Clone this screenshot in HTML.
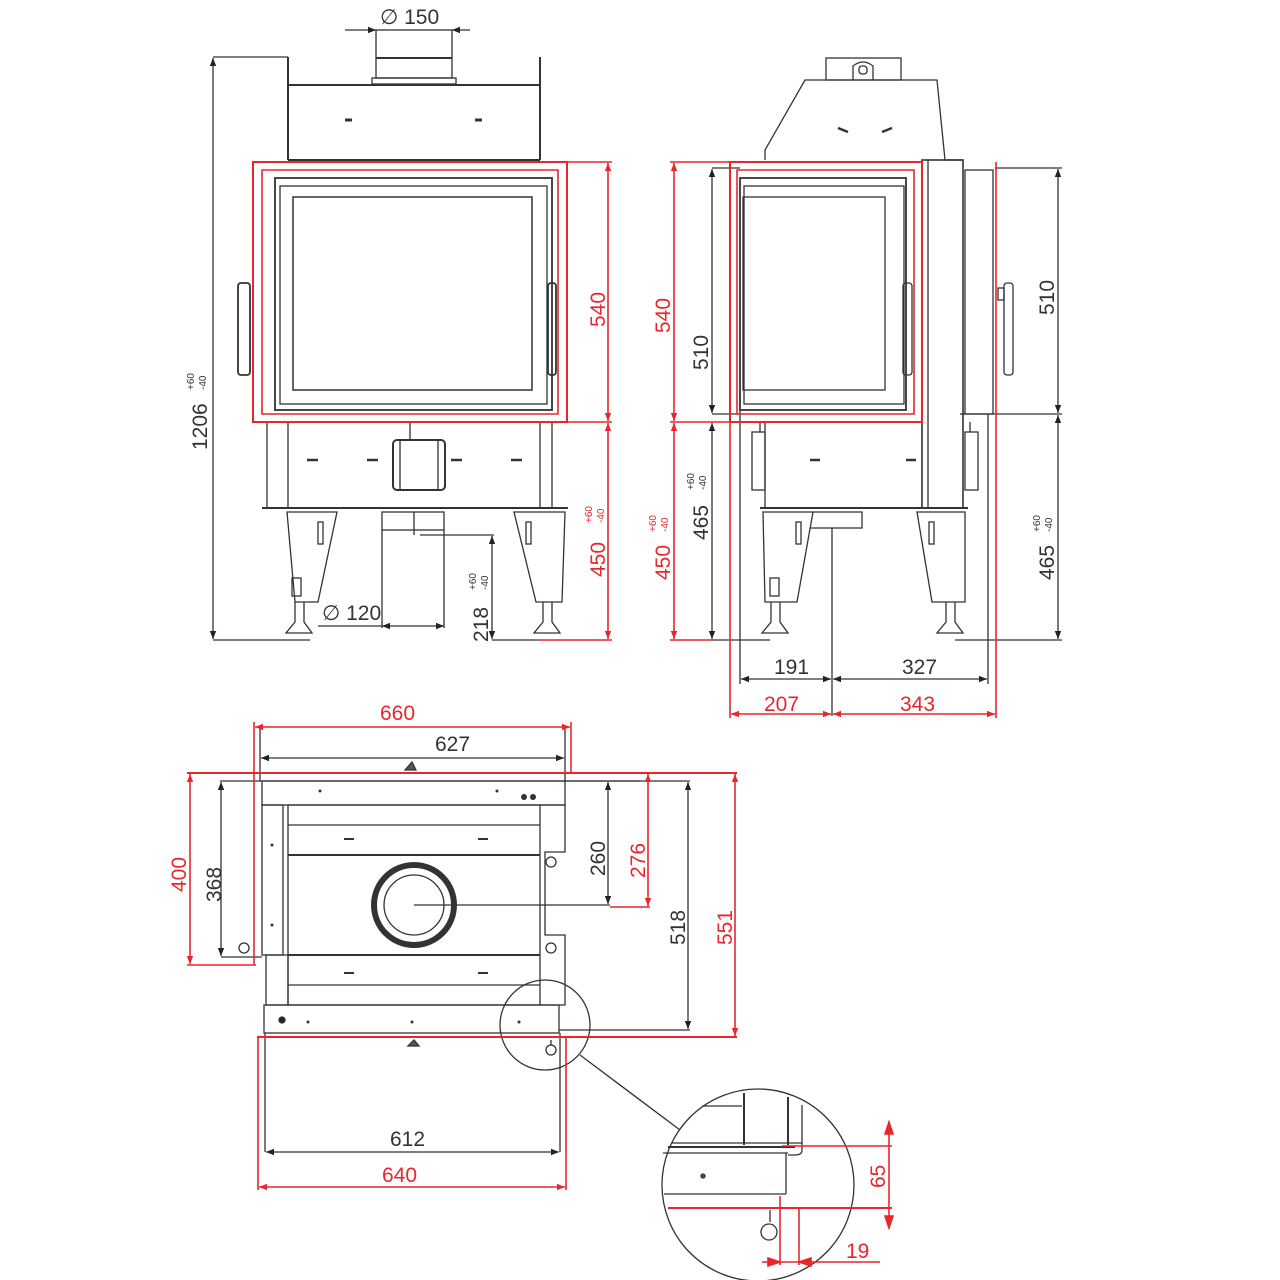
<!DOCTYPE html>
<html><head><meta charset="utf-8"><style>
html,body{margin:0;padding:0;background:#fff}
svg{display:block}
text{font-family:"Liberation Sans",sans-serif;font-size:21px;fill:#333}
.r{fill:#e8262c}
.s{font-size:10px}
</style></head><body>
<svg width="1280" height="1280" viewBox="0 0 1280 1280" xmlns="http://www.w3.org/2000/svg">
<defs>
<marker id="ab" viewBox="0 0 10 10" refX="10" refY="5" markerWidth="12" markerHeight="8" orient="auto-start-reverse" markerUnits="userSpaceOnUse"><path d="M0,1 L10,5 L0,9z" fill="#222"/></marker>
<marker id="ar" viewBox="0 0 10 10" refX="10" refY="5" markerWidth="12" markerHeight="8" orient="auto-start-reverse" markerUnits="userSpaceOnUse"><path d="M0,1 L10,5 L0,9z" fill="#e8262c"/></marker>
</defs>
<g fill="none" stroke="#333" stroke-width="1.3">
<line x1="288" y1="57" x2="288" y2="160" stroke-width="2"/>
<line x1="540" y1="57" x2="540" y2="160" stroke-width="2"/>
<line x1="288" y1="85" x2="540" y2="85" stroke-width="2"/>
<line x1="288" y1="160" x2="540" y2="160" stroke-width="2"/>
<rect x="376" y="30" width="76" height="48"/>
<line x1="376" y1="58" x2="452" y2="58" stroke-width="2"/>
<rect x="372" y="78" width="84" height="6"/>
<line x1="345" y1="120" x2="352" y2="120" stroke-width="3"/>
<line x1="475" y1="120" x2="482" y2="120" stroke-width="3"/>
<rect x="275" y="178" width="277" height="232" stroke-width="1.8"/>
<rect x="280" y="186" width="267" height="218"/>
<rect x="293" y="197" width="239" height="193" stroke-width="1.5"/>
<rect x="238" y="283" width="12" height="92" rx="3" stroke-width="1.8"/>
<rect x="548" y="283" width="8" height="92" rx="3" stroke-width="1.8"/>
<rect x="267" y="422" width="285" height="86"/>
<line x1="288" y1="422" x2="288" y2="508"/>
<line x1="540" y1="422" x2="540" y2="508"/>
<line x1="262" y1="508" x2="568" y2="508" stroke-width="2"/>
<rect x="393" y="440" width="52" height="50" rx="4" stroke-width="2"/>
<line x1="400" y1="440" x2="400" y2="490"/><line x1="438" y1="440" x2="438" y2="490"/>
<line x1="410" y1="422" x2="410" y2="440"/>
<g stroke-width="2.5"><line x1="307" y1="460" x2="318" y2="460"/><line x1="367" y1="460" x2="378" y2="460"/><line x1="451" y1="460" x2="462" y2="460"/><line x1="511" y1="460" x2="522" y2="460"/></g>
<path d="M287 512 L337 512 L318 602 L295 602 Z"/>
<path d="M514 512 L565 512 L562 602 L536 602 Z"/>
<rect x="318" y="522" width="5" height="22"/><rect x="526" y="522" width="5" height="22"/>
<rect x="292" y="578" width="9" height="18"/>
<path d="M295 602 L295 622 L286 633 L312 633 L304 622 L304 602"/>
<path d="M543 602 L543 622 L534 633 L560 633 L552 622 L552 602"/>
<rect x="382" y="512" width="62" height="18"/>
<line x1="382" y1="530" x2="382" y2="628"/><line x1="444" y1="530" x2="444" y2="628"/>
<line x1="414" y1="512" x2="414" y2="535"/>
<line x1="213" y1="57" x2="288" y2="57"/>
<line x1="213" y1="640" x2="310" y2="640"/>
<line x1="213" y1="58" x2="213" y2="639" marker-start="url(#ab)" marker-end="url(#ab)"/>
<line x1="345" y1="30" x2="376" y2="30" marker-end="url(#ab)"/>
<line x1="452" y1="30" x2="470" y2="30" marker-start="url(#ab)"/>
<line x1="318" y1="626" x2="382" y2="626"/>
<line x1="382" y1="626" x2="444" y2="626" marker-start="url(#ab)" marker-end="url(#ab)"/>
<line x1="420" y1="535" x2="494" y2="535"/>
<line x1="492" y1="536" x2="492" y2="639" marker-start="url(#ab)" marker-end="url(#ab)"/>
<line x1="492" y1="640" x2="540" y2="640"/>
</g>
<g fill="none" stroke="#e8262c" stroke-width="1.6">
<rect x="253" y="162" width="314" height="260" stroke-width="2"/>
<path d="M262 170 L558 170 L558 414 L262 414 Z"/>
<line x1="567" y1="162" x2="612" y2="162"/>
<line x1="567" y1="422" x2="612" y2="422"/>
<line x1="540" y1="640" x2="612" y2="640"/>
<line x1="608" y1="163" x2="608" y2="421" marker-start="url(#ar)" marker-end="url(#ar)"/>
<line x1="608" y1="423" x2="608" y2="639" marker-start="url(#ar)" marker-end="url(#ar)"/>
</g>
<text x="0" y="0" transform="translate(207,450) rotate(-90)">1206</text>
<text class="s" transform="translate(194,390) rotate(-90)">+60</text>
<text class="s" transform="translate(206,390) rotate(-90)">-40</text>
<text x="380" y="24">∅ 150</text>
<text x="322" y="620">∅ 120</text>
<text transform="translate(488,642) rotate(-90)">218</text>
<text class="s" transform="translate(476,590) rotate(-90)">+60</text>
<text class="s" transform="translate(488,590) rotate(-90)">-40</text>
<text class="r" transform="translate(605,327) rotate(-90)">540</text>
<text class="r" transform="translate(605,577) rotate(-90)">450</text>
<text class="s r" transform="translate(592,523) rotate(-90)">+60</text>
<text class="s r" transform="translate(604,523) rotate(-90)">-40</text>

<g fill="none" stroke="#333" stroke-width="1.3">
<path d="M765 160 L765 150 L805 80 L937 80 L945 160 L963 160"/>
<rect x="826" y="58" width="75" height="22"/>
<path d="M853 80 L853 66 Q863 58 873 66 L873 80"/>
<rect x="859" y="66" width="8" height="8" rx="3"/>
<line x1="838" y1="128" x2="848" y2="132" stroke-width="2.5"/><line x1="882" y1="132" x2="892" y2="128" stroke-width="2.5"/>
<rect x="740" y="178" width="166" height="232" stroke-width="1.8"/>
<rect x="744" y="186" width="160" height="218"/>
<rect x="743" y="197" width="142" height="193"/>
<rect x="903" y="283" width="9" height="92" rx="3"/>
<rect x="922" y="160" width="41" height="348" stroke-width="1.6"/>
<line x1="928" y1="160" x2="928" y2="508"/>
<rect x="965" y="170" width="28" height="244"/>
<rect x="1004" y="283" width="9" height="92" rx="3"/>
<rect x="998" y="288" width="6" height="12"/>
<line x1="765" y1="422" x2="765" y2="508"/>
<line x1="760" y1="508" x2="968" y2="508" stroke-width="2"/>
<rect x="752" y="432" width="13" height="58"/><rect x="965" y="432" width="13" height="58"/>
<line x1="760" y1="422" x2="760" y2="432"/><line x1="970" y1="422" x2="970" y2="432"/>
<line x1="810" y1="460" x2="820" y2="460" stroke-width="2.5"/><line x1="906" y1="460" x2="916" y2="460" stroke-width="2.5"/>
<path d="M763 512 L813 512 L797 602 L765 602 Z"/>
<path d="M917 512 L965 512 L965 602 L932 602 Z"/>
<rect x="796" y="522" width="5" height="22"/><rect x="929" y="522" width="5" height="22"/>
<rect x="770" y="578" width="9" height="18"/>
<path d="M771 602 L771 622 L762 633 L788 633 L780 622 L780 602"/>
<path d="M946 602 L946 622 L937 633 L963 633 L955 622 L955 602"/>
<path d="M813 512 L862 512 L862 528 L810 528"/>
<line x1="712" y1="168" x2="740" y2="168"/>
<line x1="712" y1="414" x2="740" y2="414"/>
<line x1="712" y1="169" x2="712" y2="413" marker-start="url(#ab)" marker-end="url(#ab)"/>
<line x1="712" y1="423" x2="712" y2="639" marker-start="url(#ab)" marker-end="url(#ab)"/>
<line x1="712" y1="640" x2="770" y2="640"/>
<line x1="955" y1="640" x2="1062" y2="640"/>
<line x1="995" y1="168" x2="1062" y2="168"/>
<line x1="960" y1="414" x2="1062" y2="414"/>
<line x1="1058" y1="169" x2="1058" y2="413" marker-start="url(#ab)" marker-end="url(#ab)"/>
<line x1="1058" y1="415" x2="1058" y2="639" marker-start="url(#ab)" marker-end="url(#ab)"/>
<line x1="740" y1="410" x2="740" y2="684"/>
<line x1="988" y1="414" x2="988" y2="684"/>
<line x1="832" y1="528" x2="832" y2="716"/>
<line x1="741" y1="679" x2="831" y2="679" marker-start="url(#ab)" marker-end="url(#ab)"/>
<line x1="833" y1="679" x2="987" y2="679" marker-start="url(#ab)" marker-end="url(#ab)"/>
</g>
<g fill="none" stroke="#e8262c" stroke-width="1.6">
<path d="M730 162 L922 162 L922 422 L730 422 Z" stroke-width="2"/>
<path d="M737 170 L914 170 L914 414 L737 414 Z"/>
<line x1="996" y1="162" x2="996" y2="718"/>
<line x1="730" y1="422" x2="730" y2="718"/>
<line x1="670" y1="162" x2="730" y2="162"/>
<line x1="670" y1="422" x2="730" y2="422"/>
<line x1="670" y1="640" x2="712" y2="640"/>
<line x1="674" y1="163" x2="674" y2="421" marker-start="url(#ar)" marker-end="url(#ar)"/>
<line x1="674" y1="423" x2="674" y2="639" marker-start="url(#ar)" marker-end="url(#ar)"/>
<line x1="731" y1="714" x2="831" y2="714" marker-start="url(#ar)" marker-end="url(#ar)"/>
<line x1="833" y1="714" x2="995" y2="714" marker-start="url(#ar)" marker-end="url(#ar)"/>
</g>
<text class="r" transform="translate(670,333) rotate(-90)">540</text>
<text transform="translate(708,370) rotate(-90)">510</text>
<text class="r" transform="translate(670,580) rotate(-90)">450</text>
<text class="s r" transform="translate(656,532) rotate(-90)">+60</text>
<text class="s r" transform="translate(668,532) rotate(-90)">-40</text>
<text transform="translate(708,540) rotate(-90)">465</text>
<text class="s" transform="translate(694,490) rotate(-90)">+60</text>
<text class="s" transform="translate(706,490) rotate(-90)">-40</text>
<text transform="translate(1054,315) rotate(-90)">510</text>
<text transform="translate(1054,580) rotate(-90)">465</text>
<text class="s" transform="translate(1040,532) rotate(-90)">+60</text>
<text class="s" transform="translate(1052,532) rotate(-90)">-40</text>
<text x="774" y="674">191</text>
<text x="902" y="674">327</text>
<text class="r" x="764" y="711">207</text>
<text class="r" x="900" y="711">343</text>

<g fill="none" stroke="#333" stroke-width="1.3">
<line x1="260" y1="727" x2="260" y2="781"/><line x1="565" y1="727" x2="565" y2="781"/>
<line x1="261" y1="758" x2="564" y2="758" marker-start="url(#ab)" marker-end="url(#ab)"/>
<line x1="220" y1="781" x2="640" y2="781"/>
<rect x="262" y="781" width="303" height="24"/>
<rect x="288" y="805" width="252" height="200"/>
<line x1="288" y1="825" x2="540" y2="825"/>
<line x1="288" y1="855" x2="540" y2="855" stroke-width="2"/>
<line x1="288" y1="955" x2="540" y2="955" stroke-width="2"/>
<line x1="288" y1="985" x2="540" y2="985"/>
<rect x="262" y="805" width="21" height="150"/>
<rect x="266" y="955" width="22" height="50"/>
<path d="M540 805 L565 805 L565 852 L545 852 L545 935 L565 935 L565 1005 L540 1005"/>
<circle cx="551" cy="862" r="5"/><circle cx="551" cy="948" r="5"/>
<circle cx="414" cy="905" r="40" stroke-width="6"/>
<circle cx="414" cy="905" r="30"/>
<line x1="414" y1="905" x2="610" y2="905"/>
<rect x="264" y="1005" width="295" height="28"/>
<circle cx="282" cy="1020" r="3" fill="#222"/>
<circle cx="244" cy="948" r="5"/>
<line x1="221" y1="782" x2="221" y2="956" marker-start="url(#ab)" marker-end="url(#ab)"/>
<line x1="221" y1="957" x2="262" y2="957"/>
<line x1="608" y1="782" x2="608" y2="904" marker-start="url(#ab)" marker-end="url(#ab)"/>
<line x1="565" y1="781" x2="690" y2="781"/>
<line x1="559" y1="1030" x2="690" y2="1030"/>
<line x1="688" y1="782" x2="688" y2="1029" marker-start="url(#ab)" marker-end="url(#ab)"/>
<circle cx="545" cy="1025" r="45"/>
<line x1="580" y1="1055" x2="680" y2="1130"/>
<circle cx="551" cy="1050" r="5"/><line x1="551" y1="1040" x2="551" y2="1045"/>
<line x1="265" y1="1033" x2="265" y2="1152"/><line x1="560" y1="1033" x2="560" y2="1152"/>
<line x1="266" y1="1152" x2="559" y2="1152" marker-start="url(#ab)" marker-end="url(#ab)"/>
<path d="M405 770 L412 762 L416 770 Z" fill="#555"/>
<path d="M408 1046 L414 1040 L419 1046 Z" fill="#555"/>
</g>
<g fill="#333"><circle cx="320" cy="791" r="1.5"/><circle cx="497" cy="791" r="1.5"/><circle cx="272" cy="845" r="1.5"/><circle cx="272" cy="925" r="1.5"/><circle cx="308" cy="1022" r="1.5"/><circle cx="412" cy="1022" r="1.5"/><circle cx="519" cy="1022" r="1.5"/><circle cx="524" cy="797" r="3"/><circle cx="533" cy="797" r="3"/></g>
<g fill="#333"><rect x="344" y="838" width="10" height="2"/><rect x="478" y="838" width="10" height="2"/><rect x="344" y="972" width="10" height="2"/><rect x="478" y="972" width="10" height="2"/></g>
<g fill="none" stroke="#e8262c" stroke-width="1.6">
<line x1="254" y1="722" x2="254" y2="965"/><line x1="571" y1="722" x2="571" y2="773"/>
<line x1="255" y1="727" x2="570" y2="727" marker-start="url(#ar)" marker-end="url(#ar)"/>
<line x1="187" y1="773" x2="737" y2="773" stroke-width="2"/>
<line x1="187" y1="965" x2="256" y2="965"/>
<line x1="190" y1="774" x2="190" y2="964" marker-start="url(#ar)" marker-end="url(#ar)"/>
<line x1="648" y1="774" x2="648" y2="906" marker-start="url(#ar)" marker-end="url(#ar)"/>
<line x1="610" y1="907" x2="650" y2="907"/>
<line x1="257" y1="1037" x2="737" y2="1037" stroke-width="2"/>
<line x1="735" y1="774" x2="735" y2="1036" marker-start="url(#ar)" marker-end="url(#ar)"/>
<line x1="258" y1="1038" x2="258" y2="1190"/><line x1="566" y1="1038" x2="566" y2="1190"/>
<line x1="259" y1="1187" x2="565" y2="1187" marker-start="url(#ar)" marker-end="url(#ar)"/>
</g>
<text class="r" x="380" y="720">660</text>
<text x="435" y="751">627</text>
<text class="r" transform="translate(186,892) rotate(-90)">400</text>
<text transform="translate(221,902) rotate(-90)">368</text>
<text transform="translate(605,876) rotate(-90)">260</text>
<text class="r" transform="translate(645,878) rotate(-90)">276</text>
<text transform="translate(685,945) rotate(-90)">518</text>
<text class="r" transform="translate(732,945) rotate(-90)">551</text>
<text x="390" y="1146">612</text>
<text class="r" x="382" y="1182">640</text>

<g fill="none" stroke="#333" stroke-width="1.3">
<circle cx="758" cy="1185" r="96"/>
<line x1="672" y1="1143" x2="802" y2="1143"/>
<line x1="668" y1="1147" x2="795" y2="1147" stroke-width="2"/>
<line x1="663" y1="1153" x2="788" y2="1153"/>
<line x1="744" y1="1093" x2="744" y2="1145" stroke-width="2"/>
<line x1="788" y1="1097" x2="788" y2="1145" stroke-width="2"/>
<path d="M702 1106 L742 1106 M802 1105 L802 1150 Q802 1155 795 1155 L788 1155"/>
<line x1="786" y1="1153" x2="786" y2="1194"/>
<line x1="664" y1="1194" x2="786" y2="1194"/>
<circle cx="703" cy="1176" r="2" fill="#555"/>
<line x1="770" y1="1210" x2="770" y2="1222"/>
<circle cx="769" cy="1232" r="8"/>
</g>
<g fill="none" stroke="#e8262c" stroke-width="1.6">
<line x1="668" y1="1208" x2="892" y2="1208" stroke-width="2"/>
<line x1="782" y1="1146" x2="892" y2="1146"/>
<line x1="889" y1="1122" x2="889" y2="1228" />
<path d="M885 1134 L889 1122 L893 1134 Z M885 1216 L889 1228 L893 1216 Z" fill="#e8262c"/>
<line x1="780" y1="1196" x2="780" y2="1265"/>
<line x1="799" y1="1208" x2="799" y2="1265"/>
<line x1="762" y1="1262" x2="880" y2="1262"/>
<path d="M768 1258 L780 1262 L768 1266 Z M811 1258 L799 1262 L811 1266 Z" fill="#e8262c"/>
</g>
<text class="r" transform="translate(885,1188) rotate(-90)">65</text>
<text class="r" x="846" y="1258">19</text>
</svg>
</body></html>
